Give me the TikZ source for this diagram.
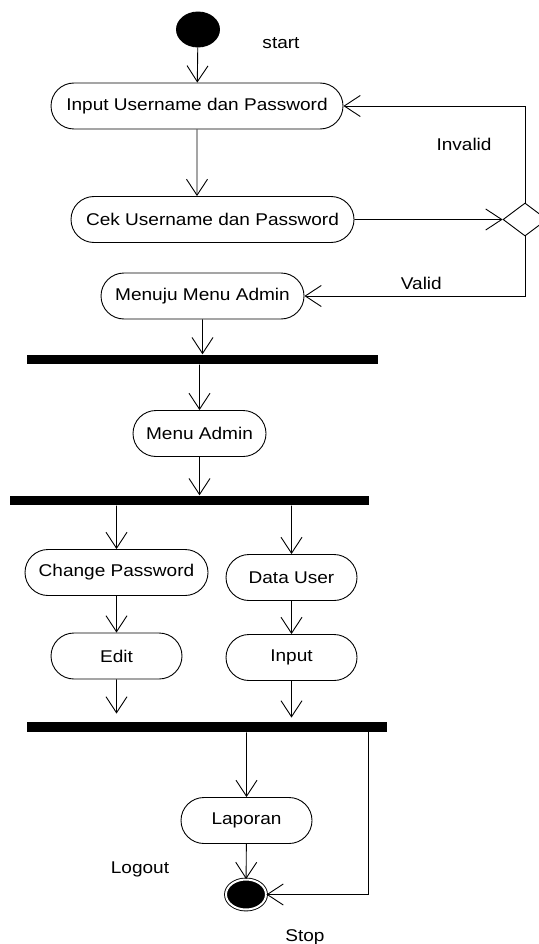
\documentclass[tikz,border=0pt]{standalone}
\usepackage{fontspec}
\setmainfont{Liberation Sans}[FakeStretch=1.12]
\usetikzlibrary{arrows.meta,shapes.geometric,shapes.misc}

\begin{document}
\begin{tikzpicture}[x=1pt,y=-1pt,line width=0.9pt,
    >={Straight Barb[length=16pt,width=21pt]},
    font=\fontsize{17}{20}\selectfont,
    act/.style={draw,rounded rectangle,minimum height=46pt,inner sep=0pt},
    bar/.style={fill=black,minimum height=9.5pt,inner sep=0pt},
    lbl/.style={inner sep=0pt}]
    \useasboundingbox (0,0) rectangle (538,944);
    \node[draw,ellipse,fill=black,minimum width=43pt,minimum height=35pt,inner sep=0pt] (s_0) at (198,29.5) {};
    \node[lbl] (l_start) at (281,43) {start};
    \node[act,minimum width=292pt] (a_1) at (197,106) {Input Username dan Password};
    \node[act,minimum width=283pt] (a_2) at (212.5,219.5) {Cek Username dan Password};
    \node[draw,diamond,minimum width=44pt,minimum height=33pt,inner sep=0pt] (d_1) at (525,219.5) {};
    \node[act,minimum width=203pt] (a_3) at (202.5,296) {Menuju Menu Admin};
    \node[bar,minimum width=351pt] (b_1) at (202.5,359.5) {};
    \node[act,minimum width=133pt] (a_4) at (199.5,433.5) {Menu Admin};
    \node[bar,minimum width=359pt] (b_2) at (189.5,500.5) {};
    \node[act,minimum width=183pt] (a_5) at (116.5,572.5) {Change Password};
    \node[act,minimum width=131pt] (a_6) at (291.5,577.5) {Data User};
    \node[act,minimum width=131pt] (a_7) at (116.5,656) {Edit};
    \node[act,minimum width=131pt] (a_8) at (291.5,657.5) {Input};
    \node[bar,minimum width=360pt,minimum height=10pt] (b_3) at (207,727) {};
    \node[act,minimum width=131pt] (a_9) at (246.5,820.5) {Laporan};
    \node[draw,ellipse,fill=black,double=white,double distance=2pt,minimum width=40pt,minimum height=30pt,inner sep=0pt] (s_1) at (246,894.5) {};
    \node[lbl] (l_logout) at (140,869) {Logout};
    \node[lbl] (l_stop) at (305,937) {Stop};

    \path[->]
    (s_0) edge (a_1)
    (a_1) edge (a_1 |- a_2.north)
    (a_2) edge (d_1)
    (a_3) edge (a_3 |- b_1.north)
    (a_4 |- b_1.south) edge (a_4)
    (a_4) edge (a_4 |- b_2.north)
    (a_5 |- b_2.south) edge (a_5)
    (a_6 |- b_2.south) edge (a_6)
    (a_5) edge (a_7)
    (a_6) edge (a_8)
    (a_7) edge[shorten >=8pt] (a_7 |- b_3.north)
    (a_8) edge[shorten >=4pt] (a_8 |- b_3.north)
    (a_9 |- b_3.south) edge (a_9)
    (a_9) edge (s_1);
    \draw[->] (d_1.north) |- node[lbl,pos=0.3,left=33pt] {Invalid} (a_1);
    \draw[->] (d_1.south) |- node[lbl,pos=0.735,above=6pt] {Valid} (a_3);
    \draw[->] ([xshift=-19pt]b_3.south east) |- (s_1);
\end{tikzpicture}
\end{document}
